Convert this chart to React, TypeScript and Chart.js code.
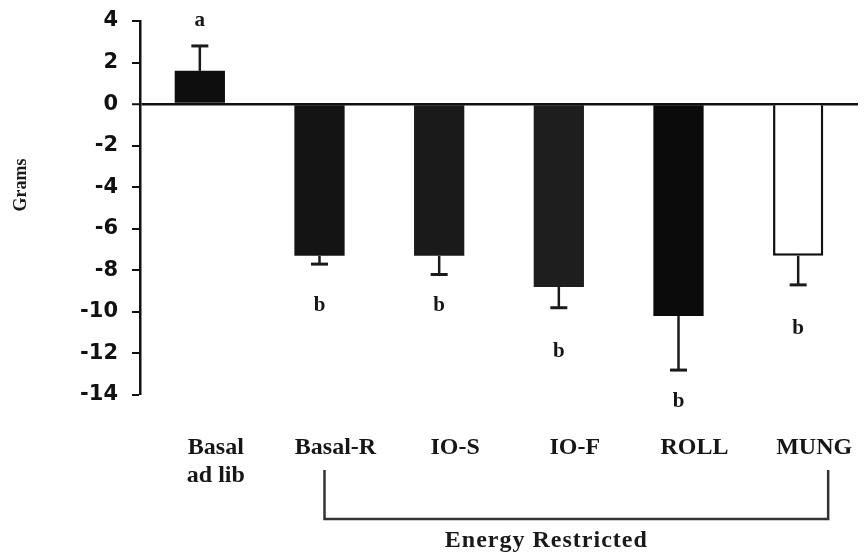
import React, { useEffect, useRef } from "react";
import { Chart, registerables } from "chart.js";

Chart.register(...registerables);

// ---- data ----
const categories: (string | string[])[] = [["Basal", "ad lib"], "Basal-R", "IO-S", "IO-F", "ROLL", "MUNG"];
const means: number[] = [1.6, -7.3, -7.3, -8.8, -10.2, -7.3];
const errors: number[] = [1.2, 0.4, 0.9, 1.0, 2.6, 1.4];
const letters: string[] = ["a", "b", "b", "b", "b", "b"];
const letterY: number[] = [4.0, -9.7, -9.7, -11.9, -14.3, -10.8];
const barColors: string[] = ["#0e0e0e", "#141414", "#1a1a1a", "#1e1e1e", "#0b0b0b", "#ffffff"];
const yMin = -14;
const yMax = 4;
const yStep = 2;
const yTitle = "Grams";
const groupLabel = "Energy Restricted";

const SERIF = "'Liberation Serif', 'Times New Roman', serif";
const SANS = "'DejaVu Sans', sans-serif";

const overlay = {
  id: "overlay",
  afterDatasetsDraw(chart: any) {
    const ctx = chart.ctx as CanvasRenderingContext2D;
    const ys = chart.scales.y;
    const xs = chart.scales.x;
    const area = chart.chartArea;
    const meta = chart.getDatasetMeta(0);
    ctx.save();
    meta.data.forEach((bar: any, i: number) => {
      const cx = bar.x;
      const v = means[i];
      const end = v >= 0 ? v + errors[i] : v - errors[i];
      const p0 = ys.getPixelForValue(v);
      const p1 = ys.getPixelForValue(end);
      ctx.strokeStyle = "#1a1a1a";
      ctx.lineWidth = 2.5;
      ctx.beginPath();
      ctx.moveTo(cx, p0);
      ctx.lineTo(cx, p1);
      ctx.stroke();
      ctx.lineWidth = 3;
      ctx.beginPath();
      ctx.moveTo(cx - 8.5, p1);
      ctx.lineTo(cx + 8.5, p1);
      ctx.stroke();
      ctx.fillStyle = "#161616";
      ctx.font = `bold 21px ${SERIF}`;
      ctx.textAlign = "center";
      ctx.textBaseline = "middle";
      ctx.fillText(letters[i], cx, ys.getPixelForValue(letterY[i]));
    });

    // y title
    ctx.save();
    ctx.translate(area.left - 119, area.top + 164);
    ctx.rotate(-Math.PI / 2);
    ctx.font = `bold 18px ${SERIF}`;
    ctx.fillStyle = "#1a1a1a";
    ctx.textAlign = "center";
    ctx.textBaseline = "middle";
    ctx.fillText(yTitle, 0, 0);
    ctx.restore();

    // bracket
    const left = xs.getPixelForValue(1) + 5;
    const right = xs.getPixelForValue(5) + 30;
    const top = area.bottom + 75;
    const bottom = area.bottom + 124;
    ctx.strokeStyle = "#333";
    ctx.lineWidth = 2.5;
    ctx.beginPath();
    ctx.moveTo(left, top);
    ctx.lineTo(left, bottom);
    ctx.lineTo(right, bottom);
    ctx.lineTo(right, top);
    ctx.stroke();

    ctx.font = `bold 24px ${SERIF}`;
    (ctx as any).letterSpacing = "1px";
    ctx.fillStyle = "#1a1a1a";
    ctx.textAlign = "center";
    ctx.textBaseline = "alphabetic";
    ctx.fillText(groupLabel, (left + right) / 2 - 30, area.bottom + 152);
    ctx.restore();
  },
};

export default function App() {
  const ref = useRef<HTMLCanvasElement | null>(null);
  useEffect(() => {
    if (!ref.current) return;
    const chart = new Chart(ref.current, {
      type: "bar",
      data: {
        labels: categories as any,
        datasets: [
          {
            data: means,
            backgroundColor: barColors,
            borderColor: "#111",
            borderWidth: means.map((_, i) => (i === 5 ? 2.5 : 0)),
            borderSkipped: "start",
            barPercentage: 0.42,
            categoryPercentage: 1,
          },
        ],
      },
      options: {
        responsive: false,
        animation: false,
        layout: { padding: { top: 21, right: 6, bottom: 0, left: 0 } },
        plugins: { legend: { display: false }, tooltip: { enabled: false } },
        scales: {
          x: {
            grid: { display: false, drawTicks: false },
            border: { display: false },
            ticks: {
              color: "#161616",
              font: { family: SERIF, size: 24, weight: "bold" },
              padding: 38,
              labelOffset: 16,
              maxRotation: 0,
              autoSkip: false,
            },
            afterFit: (s: any) => {
              s.height = 163;
              s.paddingLeft = 0;
              s.paddingRight = 0;
            },
          },
          y: {
            min: yMin,
            max: yMax,
            ticks: {
              stepSize: yStep,
              color: "#111",
              font: { family: SANS, size: 21, weight: "bold" },
              padding: 14,
            },
            grid: {
              color: (c: any) => (c.tick && c.tick.value === 0 ? "#111" : "rgba(0,0,0,0)"),
              lineWidth: (c: any) => (c.tick && c.tick.value === 0 ? 2.5 : 0),
              tickColor: "#111",
              tickWidth: 2,
              tickLength: 8,
            },
            border: { display: true, color: "#111", width: 2.5 },
            afterFit: (s: any) => {
              s.width = 140;
              s.paddingTop = 0;
              s.paddingBottom = 0;
            },
          },
        },
      },
      plugins: [overlay],
    });
    return () => chart.destroy();
  }, []);
  return (
    <div style={{ position: "absolute", left: 0, top: 0, width: 864, height: 558, background: "#fff" }}>
      <canvas ref={ref} width={864} height={558} />
    </div>
  );
}
